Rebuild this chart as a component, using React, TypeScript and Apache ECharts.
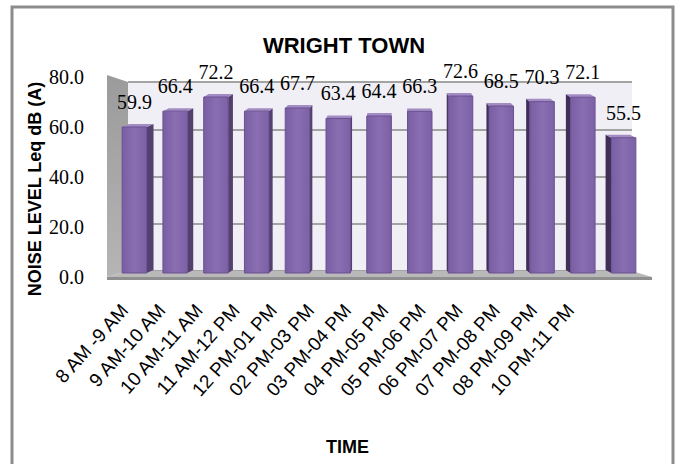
import React, { useEffect, useRef } from "react";
import * as echarts from "echarts";

const categories = [
  "8 AM -9 AM",
  "9 AM-10 AM",
  "10 AM-11 AM",
  "11 AM-12 PM",
  "12 PM-01 PM",
  "02 PM-03 PM",
  "03 PM-04 PM",
  "04 PM-05 PM",
  "05 PM-06 PM",
  "06 PM-07 PM",
  "07 PM-08 PM",
  "08 PM-09 PM",
  "10 PM-11 PM",
];
const noiseLevels = [59.9, 66.4, 72.2, 66.4, 67.7, 63.4, 64.4, 66.3, 72.6, 68.5, 70.3, 72.1, 55.5];
const yMin = 0;
const yMax = 80;
const yStep = 20;
const chartTitle = "WRIGHT TOWN";
const yTitle = "NOISE LEVEL Leq dB (A)";
const xTitle = "TIME";

export default function App() {
  const ref = useRef<HTMLDivElement>(null);
  useEffect(() => {
    if (!ref.current) return;
    const chart = echarts.init(ref.current, null, { renderer: "svg" });
    const option: any = {
      animation: false,
      backgroundColor: "#ffffff",
      grid: [
        { left: 128, right: 47, top: 82, bottom: 193, show: true, backgroundColor: "#f1eff6", borderWidth: 0 },
        { left: 114, right: 35, top: 78, bottom: 191 },
        { left: 106, right: 89.8, top: 77, bottom: 187 },
      ],
      xAxis: [
        { type: "category", gridIndex: 0, data: categories, show: false },
        { type: "category", gridIndex: 1, data: categories, show: false },
        {
          type: "category",
          gridIndex: 2,
          data: categories,
          axisLine: { show: false },
          axisTick: { show: false },
          axisLabel: {
            interval: 0,
            rotate: 48,
            margin: 30,
            fontFamily: "Liberation Sans",
            fontSize: 19,
            color: "#000",
          },
          name: xTitle,
          nameLocation: "middle",
          nameGap: 161,
          nameTextStyle: { fontFamily: "Liberation Sans", fontWeight: "bold", fontSize: 18, color: "#000" },
        },
      ],
      yAxis: [
        {
          type: "value",
          gridIndex: 0,
          min: yMin,
          max: yMax,
          interval: yStep,
          axisLabel: { show: false },
          axisLine: { show: false },
          axisTick: { show: false },
          splitLine: { lineStyle: { color: "#a3a3a3", width: 2 } },
        },
        { type: "value", gridIndex: 1, min: yMin, max: yMax, interval: yStep, show: false },
        {
          type: "value",
          gridIndex: 2,
          min: yMin,
          max: yMax,
          interval: yStep,
          axisLine: { show: false },
          axisTick: { show: false },
          splitLine: { show: false },
          axisLabel: {
            margin: 22,
            fontFamily: "Liberation Serif",
            fontSize: 20,
            color: "#000",
            formatter: (v: number) => v.toFixed(1),
          },
        },
      ],
      graphic: [
        {
          type: "rect",
          z: 0,
          shape: { x: 12, y: 7, width: 661, height: 470 },
          style: { fill: "none", stroke: "#8c8c8c", lineWidth: 3 },
        },
        {
          type: "polygon",
          z: 1,
          shape: { points: [[107, 75], [128, 82], [128, 271], [107, 277]] },
          style: {
            fill: new echarts.graphic.LinearGradient(0, 0, 0, 1, [
              { offset: 0, color: "#9b9b9b" },
              { offset: 1, color: "#b5b5b5" },
            ]),
          },
        },
        {
          type: "polygon",
          z: 1,
          shape: { points: [[107, 277], [128, 271], [632, 271], [652, 277]] },
          style: { fill: "#b9b9b9" },
        },
        {
          type: "polygon",
          z: 1,
          shape: { points: [[107, 277], [652, 277], [652, 280], [107, 280]] },
          style: { fill: "#8f8f8f" },
        },
        {
          type: "text",
          z: 3,
          x: 344,
          y: 45,
          style: {
            text: chartTitle,
            align: "center",
            verticalAlign: "middle",
            fontFamily: "Liberation Sans",
            fontWeight: "bold",
            fontSize: 22,
            fill: "#000",
          },
        },
        {
          type: "text",
          z: 3,
          x: 35,
          y: 189,
          rotation: Math.PI / 2,
          style: {
            text: yTitle,
            align: "center",
            verticalAlign: "middle",
            fontFamily: "Liberation Sans",
            fontWeight: "bold",
            fontSize: 18,
            fill: "#000",
          },
        },
      ],
      series: [
        {
          type: "custom",
          xAxisIndex: 1,
          yAxisIndex: 1,
          z: 5,
          data: noiseLevels.map((v, i) => [i, v]),
          encode: { x: 0, y: 1 },
          renderItem: (params: any, api: any) => {
            const i = api.value(0);
            const v = api.value(1);
            const top = api.coord([i, v]);
            const bot = api.coord([i, 0]);
            const bw = api.size([1, 0])[0] * 0.6;
            const xl = top[0] - bw / 2;
            const xr = top[0] + bw / 2;
            const yt = top[1];
            const yb = bot[1];
            const sx = (400 - top[0]) * 0.026;
            const sy = 3;
            const edge = sx >= 0 ? xr : xl;
            return {
              type: "group",
              children: [
                {
                  type: "polygon",
                  shape: { points: [[edge, yt], [edge + sx, yt - sy], [edge + sx, yb - sy], [edge, yb]] },
                  style: { fill: sx >= 0 ? "#54406f" : "#3f2f58" },
                },
                {
                  type: "polygon",
                  shape: { points: [[xl, yt], [xl + sx, yt - sy], [xr + sx, yt - sy], [xr, yt]] },
                  style: { fill: "#a28cc3" },
                },
                {
                  type: "rect",
                  shape: { x: xl, y: yt, width: bw, height: yb - yt },
                  style: {
                    fill: new echarts.graphic.LinearGradient(0, 0, 1, 0, [
                      { offset: 0, color: "#7a5ea3" },
                      { offset: 0.5, color: "#8a6eb2" },
                      { offset: 1, color: "#7d61a6" },
                    ]),
                    stroke: "#6a5090",
                    lineWidth: 1,
                  },
                },
                {
                  type: "text",
                  x: top[0],
                  y: yt - 25,
                  style: {
                    text: v.toFixed(1),
                    align: "center",
                    verticalAlign: "middle",
                    fontFamily: "Liberation Serif",
                    fontSize: 20,
                    fill: "#000",
                  },
                },
              ],
            };
          },
        },
      ],
    };
    chart.setOption(option);
    return () => chart.dispose();
  }, []);
  return <div ref={ref} style={{ position: "fixed", left: 0, top: 0, width: 679, height: 464 }} />;
}
